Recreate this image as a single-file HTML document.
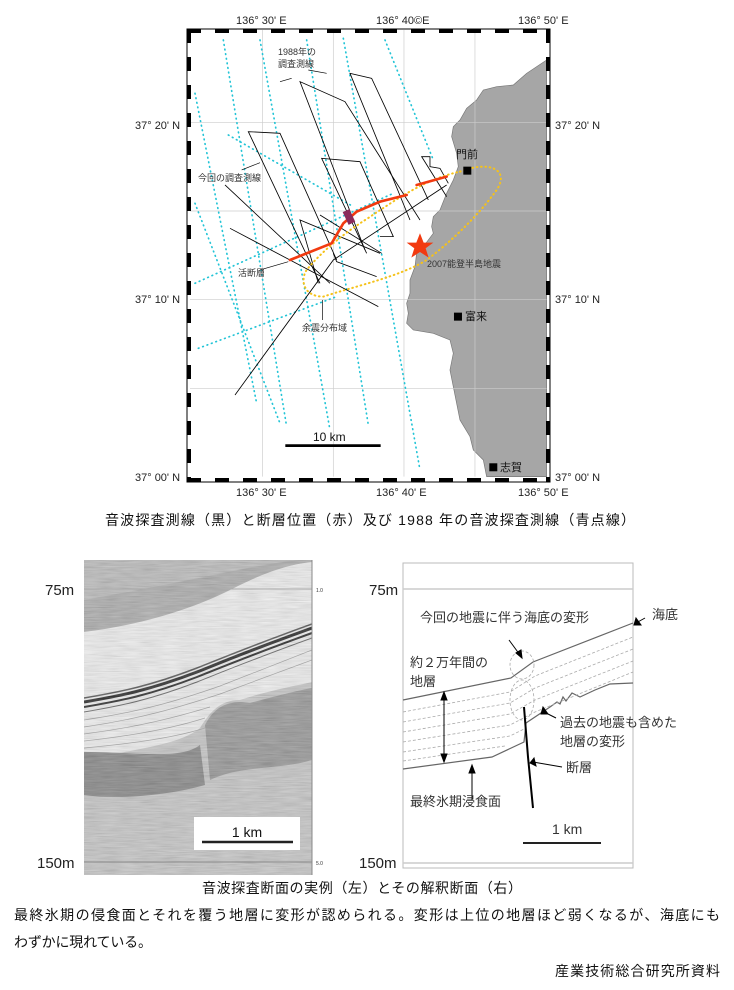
<!DOCTYPE html>
<html><head><meta charset="utf-8"><style>
body{margin:0;background:#fff}
svg{display:block}
text{font-family:"Liberation Sans","Noto Sans CJK JP",sans-serif}
</style></head><body>
<svg width="734" height="990" viewBox="0 0 734 990" xmlns="http://www.w3.org/2000/svg">
<defs>
<filter id="nz" x="0" y="0" width="100%" height="100%">
<feTurbulence type="fractalNoise" baseFrequency="0.05 0.8" numOctaves="2" seed="3"/>
<feColorMatrix type="matrix" values="0.4 0.4 0.4 0 -0.1 0.4 0.4 0.4 0 -0.1 0.4 0.4 0.4 0 -0.1 0 0 0 0 0.3"/>
</filter>
<clipPath id="lc"><rect x="84" y="560" width="228" height="315"/></clipPath>
</defs>

<!-- MAP -->
<g>
<rect x="187" y="29" width="363" height="453" fill="#fff" stroke="#000" stroke-width="1"/>
<g transform="translate(180,20) scale(0.3333)">
<path d="M1100,120 L1040,160 1000,195 950,200 910,210 890,240 860,265 840,300 820,320 815,350 830,400 835,440 820,480 800,520 780,570 760,590 755,620 760,640 730,680 710,700 705,740 690,780 690,820 680,850 685,880 680,910 700,930 760,940 810,960 820,1000 810,1050 820,1100 830,1150 840,1200 870,1250 880,1290 910,1320 920,1370 1100,1370 Z" fill="#a6a6a6" stroke="#777" stroke-width="2"/>
<g stroke="#ccc" stroke-width="2">
<line x1="248" y1="30" x2="248" y2="1370"/><line x1="460" y1="30" x2="460" y2="1370"/><line x1="672" y1="30" x2="672" y2="1370"/><line x1="885" y1="30" x2="885" y2="1370"/>
<line x1="30" y1="307" x2="1100" y2="307"/><line x1="30" y1="573" x2="1100" y2="573"/><line x1="30" y1="838" x2="1100" y2="838"/><line x1="30" y1="1105" x2="1100" y2="1105"/>
</g>
<g stroke="#22c4d6" stroke-width="5" stroke-dasharray="2 12" stroke-linecap="round" fill="none">
<line x1="130" y1="60" x2="320" y2="1220"/>
<line x1="240" y1="60" x2="450" y2="1230"/>
<line x1="380" y1="60" x2="565" y2="1215"/>
<line x1="490" y1="55" x2="720" y2="1350"/>
<line x1="615" y1="60" x2="760" y2="420"/>
<line x1="45" y1="220" x2="230" y2="1150"/>
<line x1="45" y1="550" x2="300" y2="1210"/>
<line x1="145" y1="345" x2="520" y2="560"/>
<line x1="45" y1="790" x2="640" y2="520"/>
<line x1="55" y1="985" x2="470" y2="830"/>
</g>
<g stroke="#000" stroke-width="2.5" fill="none">
<polyline points="555,690 360,185 495,245 720,600"/>
<polyline points="690,600 510,160 575,175 745,540"/>
<polyline points="420,790 205,335 300,340 470,720"/>
<polyline points="560,700 425,415 540,425 640,650 600,650"/>
<polyline points="800,530 725,410 750,410 750,440 780,445 805,490"/>
<polyline points="165,1125 460,720 800,495"/>
<line x1="135" y1="495" x2="450" y2="790"/>
<line x1="150" y1="625" x2="595" y2="860"/>
<polyline points="415,790 360,600 600,700"/>
<line x1="420" y1="585" x2="605" y2="700"/>
<polyline points="460,700 470,725 590,770"/>
</g>
<path d="M840,455 C930,420 990,450 950,510 C900,580 820,660 740,720 C660,770 520,800 430,830 C370,830 360,780 380,750 C420,700 480,650 540,610 C620,560 720,480 840,455 Z" fill="none" stroke="#f5c21a" stroke-width="6" stroke-dasharray="2 11" stroke-linecap="round"/>
<path d="M330,720 L455,670 490,610 530,575 600,545 680,525 M710,495 L800,470" fill="none" stroke="#f23a10" stroke-width="8" stroke-linecap="round"/>
<rect x="496" y="570" width="22" height="42" fill="#8b2a5a" transform="rotate(-25 507 591)"/>
<polygon points="720,640 731,668 760,668 737,685 746,713 720,696 694,713 703,685 680,668 709,668" fill="#f23a10"/>
<rect x="850" y="440" width="24" height="24" fill="#000"/>
<rect x="822" y="878" width="24" height="24" fill="#000"/>
<rect x="928" y="1330" width="24" height="24" fill="#000"/>
<g stroke="#000" stroke-width="2" fill="none">
<line x1="335" y1="175" x2="300" y2="185"/><line x1="385" y1="150" x2="440" y2="160"/>
<line x1="185" y1="450" x2="240" y2="428"/>
<line x1="240" y1="750" x2="325" y2="725"/>
<line x1="428" y1="900" x2="428" y2="840"/>
</g>
<line x1="316" y1="1277" x2="602" y2="1277" stroke="#000" stroke-width="8"/>
</g>
<g stroke="#000" stroke-width="4" fill="none" stroke-dasharray="14 14">
<line x1="187" y1="31" x2="550" y2="31"/><line x1="187" y1="480" x2="550" y2="480"/>
<line x1="189" y1="29" x2="189" y2="482"/><line x1="548" y1="29" x2="548" y2="482"/>
</g>
<rect x="187" y="29" width="363" height="453" fill="none" stroke="#000" stroke-width="1"/>
<g font-size="11" fill="#222">
<text x="236" y="24">136° 30' E</text><text x="376" y="24">136° 40©E</text><text x="518" y="24">136° 50' E</text>
<text x="236" y="496">136° 30' E</text><text x="376" y="496">136° 40' E</text><text x="518" y="496">136° 50' E</text>
<text x="135" y="129">37° 20' N</text><text x="135" y="303">37° 10' N</text><text x="135" y="481">37° 00' N</text>
<text x="555" y="129">37° 20' N</text><text x="555" y="303">37° 10' N</text><text x="555" y="481">37° 00' N</text>
</g>
<g font-size="9" fill="#333">
<text x="278" y="55">1988年の</text><text x="278" y="67">調査測線</text>
<text x="198" y="181">今回の調査測線</text>
<text x="238" y="276">活断層</text>
<text x="302" y="331">余震分布域</text>
<text x="427" y="267">2007能登半島地震</text>
</g>
<g font-size="11" fill="#111">
<text x="456" y="158">門前</text><text x="465" y="320">富来</text><text x="500" y="471">志賀</text>
<text x="313" y="441" font-size="12">10 km</text>
</g>
</g>

<text x="370" y="525" font-size="14" text-anchor="middle" textLength="530" fill="#111">音波探査測線（黒）と断層位置（赤）及び 1988 年の音波探査測線（青点線）</text>

<!-- LEFT SEISMIC -->
<g clip-path="url(#lc)">
<rect x="84" y="560" width="228" height="315" fill="#f2f2f2"/>
<path d="M84,560 H312 V562 C280,565 250,580 230,590 C190,610 140,625 84,632 Z" fill="#a8a8a8"/>
<path d="M84,560 H312 V560 C270,560 240,572 84,600 Z" fill="#b8b8b8"/>
<path d="M84,760 C130,750 180,745 200,728 C210,712 220,700 240,700 C270,690 300,685 312,682 V875 H84 Z" fill="#c4c4c4"/>
<path d="M84,752 C140,752 180,760 200,745 L205,785 C170,795 120,800 84,795 Z" fill="#7e7e7e"/>
<path d="M205,725 C215,705 230,700 250,703 C280,695 300,690 312,688 V760 C280,770 240,765 210,780 Z" fill="#909090"/>
<g fill="none" stroke="#111">
<path d="M84,698 C120,692 150,686 197,668 C215,661 240,650 312,624" stroke-width="1.5" stroke="#444"/>
<path d="M84,702 C120,696 150,690 197,672 C215,665 240,654 312,628" stroke-width="3"/>
<path d="M84,707 C120,701 150,695 197,677 C215,670 240,659 312,633" stroke-width="2"/>
<path d="M84,712 C120,706 150,700 197,682 C215,675 240,664 312,638" stroke-width="1" stroke="#555"/>
</g>
<g fill="none" stroke="#999" stroke-width="0.7">
<path d="M84,720 C140,712 180,700 220,686 L312,650"/>
<path d="M84,727 C140,719 180,707 220,694 L312,660"/>
<path d="M84,734 C140,727 180,716 210,707"/>
<path d="M84,741 C140,735 180,726 205,718"/>
<path d="M84,748 C140,743 180,736 205,728"/>
</g>
<rect x="84" y="560" width="228" height="315" filter="url(#nz)"/>
</g>
<rect x="194" y="817" width="106" height="33" fill="#fff"/>
<text x="247" y="837" font-size="14" text-anchor="middle" fill="#111">1 km</text>
<line x1="202" y1="842" x2="293" y2="842" stroke="#222" stroke-width="2.5"/>
<line x1="84" y1="589" x2="312" y2="589" stroke="#aaa" stroke-width="1"/>
<line x1="84" y1="862" x2="312" y2="862" stroke="#888" stroke-width="1"/>
<line x1="312" y1="560" x2="312" y2="875" stroke="#888"/>
<text x="45" y="595" font-size="15" fill="#222">75m</text>
<text x="37" y="868" font-size="15" fill="#222">150m</text>
<text x="316" y="592" font-size="5" fill="#333">1.0</text>
<text x="316" y="865" font-size="5" fill="#333">5.0</text>

<!-- RIGHT INTERPRETATION -->
<rect x="403" y="563" width="230" height="305" fill="#fff" stroke="#bbb"/>
<line x1="403" y1="589" x2="633" y2="589" stroke="#ccc" stroke-width="1.5"/>
<line x1="403" y1="863" x2="633" y2="863" stroke="#ccc" stroke-width="1.5"/>
<polyline points="403,700 511,678 533,662 633,623" fill="none" stroke="#666" stroke-width="1.2"/>
<polyline points="403,769 492,757 524,742 526,723 550,707 557,702 560,704 563,697 566,701 572,693 580,697 595,690 610,684 633,683" fill="none" stroke="#666" stroke-width="1.2"/>
<g fill="none" stroke="#aaa" stroke-width="0.8" stroke-dasharray="3 2">
<polyline points="403,712 510,692 535,676 633,637"/>
<polyline points="403,722 510,703 535,688 633,649"/>
<polyline points="403,732 510,714 535,700 633,661"/>
<polyline points="403,742 510,725 535,712 633,672"/>
<polyline points="403,752 510,736 526,728"/>
<polyline points="403,761 505,746"/>
<ellipse cx="522" cy="665" rx="12" ry="14"/>
<ellipse cx="522" cy="700" rx="12" ry="20"/>
</g>
<path d="M524,707 L528,757 L533,808" fill="none" stroke="#000" stroke-width="2"/>
<g stroke="#000" stroke-width="1" fill="#000">
<line x1="444" y1="696" x2="444" y2="758"/>
<polygon points="441,700 444,692 447,700"/><polygon points="441,754 444,762 447,754"/>
<line x1="509" y1="640" x2="520" y2="655"/><polygon points="516,653 522,658 521,650"/>
<line x1="645" y1="618" x2="636" y2="623"/><polygon points="636,618 634,625 641,625"/>
<line x1="556" y1="718" x2="544" y2="712"/><polygon points="543,707 541,714 548,714"/>
<line x1="562" y1="767" x2="533" y2="762"/><polygon points="534,758 530,763 536,766"/>
<line x1="472" y1="800" x2="472" y2="770"/><polygon points="469,773 472,765 475,773"/>
</g>
<g font-size="13" fill="#333">
<text x="420" y="622">今回の地震に伴う海底の変形</text>
<text x="652" y="619">海底</text>
<text x="410" y="667">約２万年間の</text>
<text x="410" y="686">地層</text>
<text x="560" y="727">過去の地震も含めた</text>
<text x="560" y="746">地層の変形</text>
<text x="566" y="772">断層</text>
<text x="410" y="806">最終氷期浸食面</text>
<text x="552" y="834" font-size="14">1 km</text>
</g>
<line x1="523" y1="843" x2="601" y2="843" stroke="#222" stroke-width="2"/>
<text x="369" y="595" font-size="15" fill="#222">75m</text>
<text x="359" y="868" font-size="15" fill="#222">150m</text>

<text x="362" y="893" font-size="14" text-anchor="middle" textLength="320" fill="#111">音波探査断面の実例（左）とその解釈断面（右）</text>
<text x="14" y="920" font-size="14" textLength="706" fill="#111">最終氷期の侵食面とそれを覆う地層に変形が認められる。変形は上位の地層ほど弱くなるが、海底にも</text>
<text x="14" y="947" font-size="14" textLength="138" fill="#111">わずかに現れている。</text>
<text x="720" y="976" font-size="14" text-anchor="end" textLength="165" fill="#111">産業技術総合研究所資料</text>
</svg>
</body></html>
